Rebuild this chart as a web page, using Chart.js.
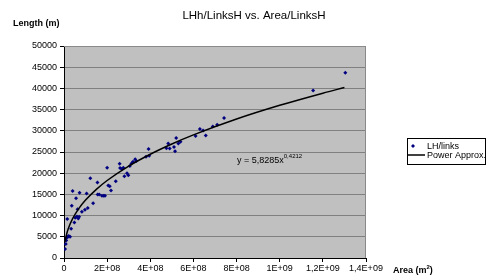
<!DOCTYPE html>
<html>
<head>
<meta charset="utf-8">
<script src="https://cdn.jsdelivr.net/npm/chart.js@4"></script>
<style>
  html, body { margin: 0; padding: 0; background: #fff; }
  #wrap { width: 492px; height: 277px; }
</style>
</head>
<body>
<div id="wrap"><canvas id="lhChart" width="492" height="277"></canvas></div>
<script>
// values (area in E+08 m2, length in m)
const areaE8 = [0.05, 0.08, 0.1, 0.12, 0.15, 0.18, 0.22, 0.28, 0.33, 0.36, 0.4, 0.48, 0.52, 0.56, 0.6,
  0.63, 0.66, 0.7, 0.72, 0.83, 0.97, 1.05, 1.1, 1.22, 1.35, 1.55, 1.56, 1.63, 1.76, 1.84, 1.9, 2.0,
  2.05, 2.12, 2.18, 2.4, 2.58, 2.6, 2.68, 2.75, 2.8, 2.92, 2.98, 3.05, 3.13, 3.2, 3.3, 3.35, 3.8,
  3.92, 3.95, 4.75, 4.83, 4.9, 5.1, 5.15, 5.2, 5.3, 5.4, 6.1, 6.3, 6.45, 6.57, 6.9, 7.1, 7.42,
  11.55, 13.04];
const lengthM = [2100, 3300, 4100, 4700, 9200, 5000, 5200, 5000, 6900, 12300, 15800, 8400, 9500, 14100, 9800,
  11500, 9300, 9700, 15400, 10900, 11400, 15200, 11800, 18800, 12900, 17800, 15000, 15000, 14700, 14700, 14700, 21300,
  17100, 16900, 15900, 18100, 22200, 21200, 21000, 21300, 19300, 20000, 19500, 21700, 22300, 22700, 23300, 22900, 23900,
  25700, 24100, 25900, 27000, 25800, 26200, 25200, 28300, 27000, 27400, 28800, 30400, 30100, 28900, 31000, 31400, 33000,
  39500, 43700];

// power approx. line as drawn
const trendAreaE8 = [0.05, 0.1, 0.2, 0.4, 0.7, 1, 1.5, 2, 3, 4, 5, 6, 8, 10, 12, 13];
const trendLength = [3865, 5175, 6931, 9280, 11747, 13651, 16193, 18279, 21683, 24476, 26889, 29033, 32774, 36007, 38878, 40211];

const xTickLabels = ['0', '2E+08', '4E+08', '6E+08', '8E+08', '1E+09', '1,2E+09', '1,4E+09'];
const seriesNames = ['LH/links', 'Power Approx.'];

const font = 'Liberation Sans, Arial, sans-serif';

const points = areaE8.map((a, i) => ({ x: a * 1e8, y: lengthM[i] }));
const trend = trendAreaE8.map((a, i) => ({ x: a * 1e8, y: trendLength[i] }));

const decor = {
  id: 'decor',
  afterDraw(chart) {
    const { ctx, chartArea: a } = chart;
    ctx.save();
    // grey plot area, painted behind what is already there
    ctx.globalCompositeOperation = 'destination-over';
    ctx.fillStyle = '#c0c0c0';
    ctx.fillRect(a.left, a.top, a.right - a.left, a.bottom - a.top);
    ctx.globalCompositeOperation = 'source-over';
    ctx.strokeStyle = '#8a8a8a';
    ctx.lineWidth = 1;
    ctx.beginPath();
    ctx.moveTo(a.left, a.top + 0.5); ctx.lineTo(a.right - 0.5, a.top + 0.5); ctx.lineTo(a.right - 0.5, a.bottom);
    ctx.stroke();

    ctx.fillStyle = '#000';
    ctx.textBaseline = 'alphabetic';
    // title
    ctx.font = '11.5px ' + font;
    ctx.textAlign = 'center';
    ctx.fillText('LHh/LinksH vs. Area/LinksH', 254, 19);
    // axis titles
    ctx.font = 'bold 9px ' + font;
    ctx.textAlign = 'left';
    ctx.fillText('Length (m)', 13, 26);
    ctx.fillText('Area (m', 393, 273);
    let w = ctx.measureText('Area (m').width;
    ctx.font = 'bold 6px ' + font;
    ctx.fillText('2', 393 + w, 269);
    let w2 = ctx.measureText('2').width;
    ctx.font = 'bold 9px ' + font;
    ctx.fillText(')', 393 + w + w2, 273);
    // equation
    ctx.font = '9px ' + font;
    ctx.fillText('y = 5,8285x', 237, 163);
    w = ctx.measureText('y = 5,8285x').width;
    ctx.font = '6px ' + font;
    ctx.fillText('0,4212', 237 + w, 158);
    // legend
    const lx = 407, ly = 138, lw = 78, lh = 26;
    ctx.fillStyle = '#fff';
    ctx.fillRect(lx, ly, lw, lh);
    ctx.strokeStyle = '#000';
    ctx.lineWidth = 1;
    ctx.strokeRect(lx + 0.5, ly + 0.5, lw, lh);
    ctx.fillStyle = '#000080';
    ctx.beginPath();
    ctx.moveTo(413, 144); ctx.lineTo(415, 146); ctx.lineTo(413, 148); ctx.lineTo(411, 146);
    ctx.closePath(); ctx.fill();
    ctx.strokeStyle = '#000';
    ctx.lineWidth = 1.5;
    ctx.beginPath(); ctx.moveTo(408, 155); ctx.lineTo(425, 155); ctx.stroke();
    ctx.fillStyle = '#000';
    ctx.font = '9px ' + font;
    ctx.fillText(seriesNames[0], 427, 149);
    ctx.fillText(seriesNames[1], 427, 158);
    ctx.restore();
  }
};

new Chart(document.getElementById('lhChart'), {
  type: 'scatter',
  data: {
    datasets: [{
      label: seriesNames[0],
      data: points,
      pointStyle: 'rectRot',
      pointRadius: 2,
      backgroundColor: '#000080',
      borderColor: '#000080',
      borderWidth: 0,
      order: 1
    }, {
      label: seriesNames[1],
      type: 'line',
      data: trend,
      showLine: true,
      borderColor: '#000',
      borderWidth: 1.5,
      pointRadius: 0,
      cubicInterpolationMode: 'monotone',
      fill: false,
      order: 0
    }]
  },
  options: {
    responsive: false,
    animation: false,
    events: [],
    layout: { padding: { left: 0, top: 46, right: 126, bottom: 0 } },
    plugins: { legend: { display: false }, title: { display: false }, tooltip: { enabled: false } },
    scales: {
      x: {
        type: 'linear',
        min: 0,
        max: 1.4e9,
        afterFit(s) { s.height = 19; },
        afterBuildTicks(s) {
          s.ticks = xTickLabels.map((t, i) => ({ value: i * 2e8 }));
        },
        ticks: {
          color: '#000',
          font: { family: font, size: 9 },
          padding: 1,
          maxRotation: 0,
          autoSkip: false,
          callback: (v, i) => xTickLabels[i]
        },
        grid: { drawOnChartArea: false, tickLength: 4, color: '#000' },
        border: { color: '#000' }
      },
      y: {
        min: 0,
        max: 50000,
        afterFit(s) { s.width = 64; },
        ticks: {
          stepSize: 5000,
          color: '#000',
          font: { family: font, size: 9 },
          padding: 3,
          callback: v => String(v)
        },
        grid: { color: '#808080', tickColor: '#000', tickLength: 4 },
        border: { color: '#000' }
      }
    }
  },
  plugins: [decor]
});
</script>
</body>
</html>
